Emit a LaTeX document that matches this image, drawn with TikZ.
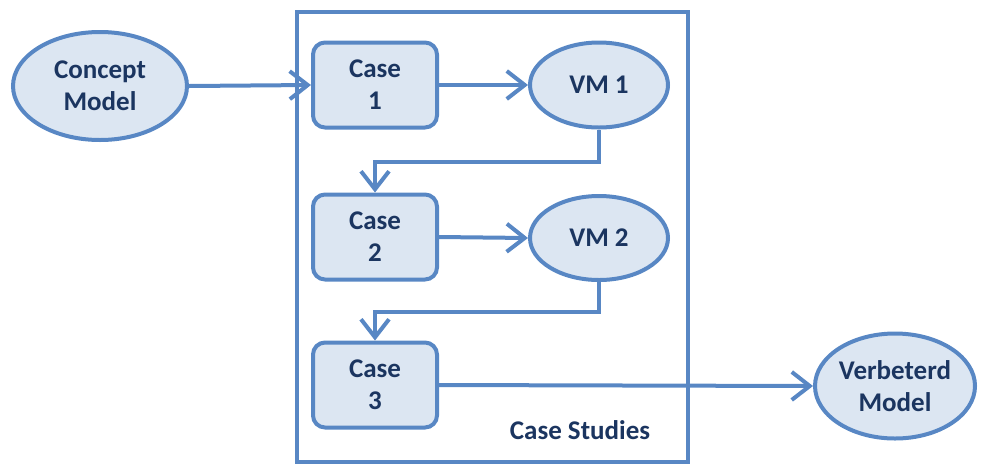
\documentclass[tikz,border=0pt]{standalone}
\usepackage{fontspec}
\setmainfont{Carlito}
\usetikzlibrary{arrows.meta,shapes.geometric}
\definecolor{edge}{HTML}{5887C4}
\definecolor{fillc}{HTML}{DCE6F2}
\definecolor{ink}{HTML}{1B3560}
\begin{document}
\begin{tikzpicture}[x=1pt,y=-1pt,
  shape font/.style={font=\bfseries\fontsize{27}{32}\selectfont, text=ink, align=center},
  casebox/.style={shape font, draw=edge, fill=fillc, line width=4pt, rounded corners=12pt,
    minimum width=124pt, minimum height=85pt, inner sep=0pt},
  oval/.style={shape font, draw=edge, fill=fillc, line width=4pt, ellipse, inner sep=0pt},
  link/.style={draw=edge, line width=4pt, -{Straight Barb[length=18pt,width=28pt]}}
]
\useasboundingbox (0,0) rectangle (981,464);

% frame around the case studies
\node[draw=edge, line width=4pt, minimum width=391pt, minimum height=450pt, inner sep=0pt] (frame) at (492.5,237) {};
\node[shape font, anchor=center] (title) at (580,430) {Case Studies};

% shapes
\node[oval, minimum width=174pt, minimum height=108pt] (concept) at (100,86) {Concept\\Model};
\node[casebox] (c1) at (375,85) {Case\\1};
\node[oval, minimum width=138pt, minimum height=85pt] (vm1) at (599,85) {VM 1};
\node[casebox] (c2) at (375,237) {Case\\2};
\node[oval, minimum width=138pt, minimum height=84pt] (vm2) at (599,238) {VM 2};
\node[casebox] (c3) at (375,385) {Case\\3};
\node[oval, minimum width=160pt, minimum height=105pt] (improved) at (895,386) {Verbeterd\\Model};

% connectors
\draw[link] (concept.east) -- (c1.west);
\draw[link] (c1.east) -- (vm1.west);
\draw[link] (vm1.south) -- ++(0,32) -| (c2.north);
\draw[link] (c2.east) -- (vm2.west);
\draw[link] (vm2.south) -- ++(0,30) -| (c3.north);
\draw[link] (c3.east) -- (improved.west);
\end{tikzpicture}
\end{document}
